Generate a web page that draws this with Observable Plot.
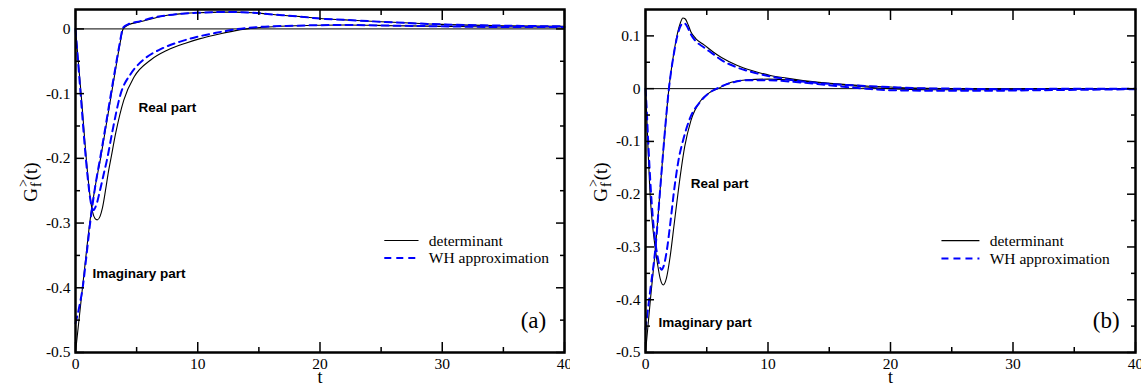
<!DOCTYPE html>
<html><head><meta charset="utf-8">
<script src="https://cdn.jsdelivr.net/npm/d3@7"></script>
<script src="https://cdn.jsdelivr.net/npm/@observablehq/plot@0.6"></script>
<style>
body{margin:0;background:#fff;}
#wrap{display:flex;width:1141px;height:387px;}
#wrap svg{overflow:visible;display:block}
</style></head><body><div id="wrap"></div>
<script>
// ---------- DATA ----------
const xMajor = [0, 10, 20, 30, 40];
const xMinor = [5, 15, 25, 35];
const yMajorA = [-0.5, -0.4, -0.3, -0.2, -0.1, 0];
const yMinorA = [-0.45, -0.35, -0.25, -0.15, -0.05];
const yMajorB = [-0.5, -0.4, -0.3, -0.2, -0.1, 0, 0.1];
const yMinorB = [-0.45, -0.35, -0.25, -0.15, -0.05, 0.05];
const legendNames = ["determinant", "WH approximation"];
const partNames = ["Real part", "Imaginary part"];
const panelTags = ["(a)", "(b)"];

// panel (a)
const tReA_det = [0,0.25,0.5,0.75,1.0,1.2,1.4,1.6,1.78,2.0,2.2,2.45,2.7,2.9,3.3,3.95,4.8,6.15,7.5,9,10.2,11.5,13,14,15.7,18,22,26,30,35,40];
const reA_det  = [0,-0.055,-0.11,-0.17,-0.225,-0.26,-0.283,-0.293,-0.295,-0.29,-0.277,-0.25,-0.22,-0.2,-0.16,-0.11,-0.074,-0.048,-0.033,-0.022,-0.015,-0.009,-0.003,0,0.003,0.005,0.006,0.005,0.004,0.003,0.003];
const tImA_det = [0,0.3,0.6,0.9,1.23,1.6,2.05,2.5,2.9,3.3,3.6,3.9,4.3,5.3,6.5,7.5,9,10,12,13,14.5,15.7,16.8,18.4,20,22,25,30,35,40];
const imA_det  = [-0.5,-0.447,-0.395,-0.343,-0.29,-0.245,-0.2,-0.15,-0.105,-0.06,-0.027,0,0.006,0.011,0.017,0.021,0.024,0.025,0.026,0.026,0.025,0.023,0.021,0.019,0.016,0.014,0.011,0.007,0.005,0.004];
const tReA_wh  = [0,0.25,0.5,0.75,1.0,1.2,1.45,1.7,2.0,2.3,2.6,3.0,3.7,4.5,5.6,7,8.5,10,11.5,13,15,18,22,26,30,35,40];
const reA_wh   = [0,-0.06,-0.12,-0.18,-0.23,-0.262,-0.28,-0.272,-0.25,-0.225,-0.2,-0.16,-0.1,-0.07,-0.047,-0.031,-0.02,-0.012,-0.006,-0.001,0.003,0.005,0.006,0.005,0.004,0.003,0.003];
const tImA_wh  = [0,0.3,0.6,0.9,1.23,1.6,2.05,2.5,2.9,3.3,3.6,3.9,4.3,5.3,6.5,7.5,9,10,12,13,14.5,15.7,18.4,20,22,25,30,35,40];
const imA_wh   = [-0.455,-0.43,-0.398,-0.35,-0.295,-0.245,-0.196,-0.146,-0.1,-0.056,-0.024,0.002,0.007,0.012,0.018,0.021,0.024,0.025,0.026,0.026,0.025,0.023,0.019,0.016,0.014,0.011,0.007,0.005,0.004];

// panel (b)
const tReB_det = [0,0.1,0.2,0.35,0.5,0.7,1.0,1.2,1.45,1.7,2.0,2.35,2.73,3.2,3.7,4.5,5.2,5.9,7,8.3,10,11.5,13,15.7,18,20,23,27,32,40];
const reB_det  = [0,-0.05,-0.11,-0.19,-0.24,-0.285,-0.335,-0.36,-0.372,-0.36,-0.32,-0.255,-0.184,-0.11,-0.061,-0.023,-0.008,0,0.012,0.017,0.018,0.017,0.014,0.008,0.003,0,-0.002,-0.002,-0.001,0];
const tImB_det = [0,0.4,0.82,1.2,1.55,1.91,2.3,2.6,2.85,3.05,3.25,3.5,3.7,4.1,4.78,5.5,6.2,7.5,8.6,10.2,11.5,13,15.7,18,20,22,25,30,35,40];
const imB_det  = [-0.5,-0.4,-0.3,-0.19,-0.09,0,0.066,0.104,0.125,0.134,0.132,0.12,0.108,0.095,0.083,0.07,0.059,0.044,0.035,0.025,0.02,0.015,0.009,0.005,0.003,0.001,0,-0.001,0,0];
const tReB_wh  = [0,0.1,0.2,0.43,0.6,0.8,1.0,1.15,1.31,1.5,1.75,2.0,2.35,2.7,3.1,3.6,4.5,5.2,5.8,7,8.3,10,12,14,16,18,20,24,28,32,36,40];
const reB_wh   = [0,-0.04,-0.09,-0.19,-0.245,-0.29,-0.32,-0.336,-0.343,-0.335,-0.305,-0.26,-0.19,-0.135,-0.095,-0.058,-0.024,-0.008,0,0.011,0.016,0.016,0.013,0.009,0.004,0,-0.003,-0.004,-0.004,-0.003,-0.002,-0.001];
const tImB_wh  = [0,0.4,0.82,1.2,1.55,1.91,2.3,2.6,2.85,3.05,3.25,3.5,3.7,4.1,4.78,5.5,6.15,7.5,8.6,10.2,11.5,13,15.7,18,20,22,25,30,35,40];
const imB_wh   = [-0.456,-0.38,-0.3,-0.19,-0.09,0,0.064,0.1,0.118,0.124,0.123,0.113,0.103,0.09,0.078,0.066,0.055,0.04,0.032,0.023,0.018,0.013,0.008,0.005,0.003,0.001,0,-0.001,0,0];

// ---------- CHART ----------
const serif = "'Liberation Serif','Times New Roman',Times,serif";
const sans = "'Liberation Sans',Arial,Helvetica,sans-serif";
const zip = (ts, vs) => ts.map((t, i) => ({t, v: vs[i]}));
const fmt = d => d === 0 ? "0" : d.toFixed(1);

function panel(cfg) {
  const solid = {x: "t", y: "v", stroke: "black", strokeWidth: 1.1, curve: "monotone-x"};
  const dashed = {x: "t", y: "v", stroke: "#0000ff", strokeWidth: 2, strokeDasharray: "7,5", curve: "monotone-x"};
  const tick = {tickFormat: () => "", label: null, strokeWidth: 1.5};
  const svg = Plot.plot({
    width: cfg.width, height: 387,
    marginLeft: 75, marginRight: 6, marginTop: 9, marginBottom: 35,
    style: {fontFamily: serif, fontSize: "15px", color: "black", background: "white", overflow: "visible"},
    x: {domain: [0, 40]},
    y: {domain: cfg.yDomain},
    marks: [
      Plot.ruleY([0], {stroke: "black", strokeWidth: 1}),
      Plot.line(cfg.re_det, solid),
      Plot.line(cfg.im_det, solid),
      Plot.line(cfg.re_wh, dashed),
      Plot.line(cfg.im_wh, dashed),
      // axes: labels
      Plot.axisX(xMajor, {anchor: "bottom", tickSize: 0, tickPadding: 5, tickFormat: d => String(d), label: null, fontSize: 15.5, fontFamily: serif, fill: "black", ariaLabel: "xlabels"}),
      Plot.axisY(cfg.yMajor, {anchor: "left", tickSize: 0, tickPadding: 5, tickFormat: fmt, label: null, fontSize: 15.5, fontFamily: serif, fill: "black", ariaLabel: "ylabels"}),
      // inward ticks, all four sides
      Plot.axisX(xMajor, {anchor: "bottom", tickSize: -10, ...tick}),
      Plot.axisX(xMinor, {anchor: "bottom", tickSize: -5, ...tick}),
      Plot.axisX(xMajor, {anchor: "top", tickSize: -10, ...tick}),
      Plot.axisX(xMinor, {anchor: "top", tickSize: -5, ...tick}),
      Plot.axisY(cfg.yMajor, {anchor: "left", tickSize: -9, ...tick}),
      Plot.axisY(cfg.yMinor, {anchor: "left", tickSize: -5, ...tick}),
      Plot.axisY(cfg.yMajor, {anchor: "right", tickSize: -9, ...tick}),
      Plot.axisY(cfg.yMinor, {anchor: "right", tickSize: -5, ...tick}),
      Plot.frame({stroke: "black", strokeWidth: 2.5}),
      // x label
      Plot.text(["t"], {frameAnchor: "bottom", dy: 30, fontSize: 18, fontFamily: serif, fill: "black"}),
      // annotations
      Plot.text([partNames[0]], {x: cfg.realPos[0], y: cfg.realPos[1], textAnchor: "start", fontFamily: sans, fontWeight: "bold", fontSize: 13.5}),
      Plot.text([partNames[1]], {x: cfg.imagPos[0], y: cfg.imagPos[1], textAnchor: "start", fontFamily: sans, fontWeight: "bold", fontSize: 13.5}),
      Plot.text([cfg.tag], {x: cfg.tagPos[0], y: cfg.tagPos[1], textAnchor: "end", fontFamily: serif, fontSize: 23}),
      // legend
      Plot.ruleY([cfg.leg.y1], {x1: cfg.leg.x1, x2: cfg.leg.x2, stroke: "black", strokeWidth: 1.1}),
      Plot.ruleY([cfg.leg.y2], {x1: cfg.leg.x1, x2: cfg.leg.x2, stroke: "#0000ff", strokeWidth: 2, strokeDasharray: "7,5"}),
      Plot.text([legendNames[0]], {x: cfg.leg.xt, y: cfg.leg.y1, textAnchor: "start", fontFamily: serif, fontSize: 15.5}),
      Plot.text([legendNames[1]], {x: cfg.leg.xt, y: cfg.leg.y2, textAnchor: "start", fontFamily: serif, fontSize: 15.5})
    ]
  });
  // force serif tick labels
  d3.select(svg).selectAll("g[aria-label='xlabels'] text, g[aria-label='ylabels'] text, g[aria-label*='tick label'] text")
    .style("font-family", serif).style("font-size", "15.5px");
  // rotated y label with sub/superscript
  const t = d3.select(svg).append("text")
    .attr("transform", "translate(37,182) rotate(-90)")
    .attr("text-anchor", "middle")
    .style("font-family", serif)
    .attr("font-size", 19)
    .attr("fill", "black");
  t.append("tspan").text("G");
  t.append("tspan").attr("font-size", 14).attr("dy", -9).attr("dx", 1).text(">");
  t.append("tspan").attr("font-size", 14).attr("dx", -8).attr("dy", 13).text("f");
  t.append("tspan").attr("dy", -4).attr("dx", 2).text("(t)");
  return svg;
}

const wrap = document.getElementById("wrap");
wrap.appendChild(panel({
  width: 570, yDomain: [-0.5, 0.03], yMajor: yMajorA, yMinor: yMinorA,
  re_det: zip(tReA_det, reA_det), im_det: zip(tImA_det, imA_det),
  re_wh: zip(tReA_wh, reA_wh), im_wh: zip(tImA_wh, imA_wh),
  realPos: [5.16, -0.121], imagPos: [1.39, -0.378], tag: panelTags[0], tagPos: [38.5, -0.45],
  leg: {x1: 25.3, x2: 28.1, xt: 28.9, y1: -0.327, y2: -0.354}
}));
wrap.appendChild(panel({
  width: 571, yDomain: [-0.5, 0.15], yMajor: yMajorB, yMinor: yMinorB,
  re_det: zip(tReB_det, reB_det), im_det: zip(tImB_det, imB_det),
  re_wh: zip(tReB_wh, reB_wh), im_wh: zip(tImB_wh, imB_wh),
  realPos: [3.7, -0.18], imagPos: [1.07, -0.443], tag: panelTags[1], tagPos: [38.7, -0.44],
  leg: {x1: 24.2, x2: 27.3, xt: 28.1, y1: -0.288, y2: -0.322}
}));
</script></body></html>
